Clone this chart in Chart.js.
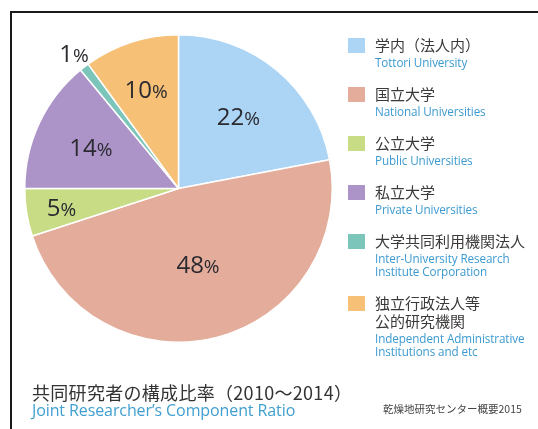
<!DOCTYPE html>
<html>
<head>
<meta charset="utf-8">
<script src="https://cdn.jsdelivr.net/npm/chart.js@4"></script>
<style>
    html, body { margin: 0; padding: 0; background: #fff; }
    body { width: 538px; height: 429px; position: relative; overflow: hidden; font-family: "Open Sans", "Noto Sans CJK JP", sans-serif; }
    .frame { position: absolute; left: 10px; top: 11px; width: 540px; height: 430px; border-top: 2px solid #1a1a1a; border-left: 2px solid #1a1a1a; }
    #pie-wrap { position: absolute; left: 0; top: 0; width: 360px; height: 380px; }
    #legend { position: absolute; left: 348px; top: 38px; width: 190px; }
    .item { position: relative; padding-left: 27px; margin-bottom: 18px; }
    .box { position: absolute; left: 0; top: 0; width: 17px; height: 15px; }
    .ja { font-family: "Noto Sans CJK JP", sans-serif; font-size: 15px; line-height: 14px; color: #3a3a3a; margin-bottom: 4px; }
    .en { font-family: "Open Sans", sans-serif; font-size: 11.7px; line-height: 13px; color: #3c9ad0; letter-spacing: -0.1px; }
    .title-ja { position: absolute; left: 32px; top: 382px; font-family: "Noto Sans CJK JP", sans-serif; font-size: 18px; line-height: 20px; color: #333; letter-spacing: 0.3px; }
    .title-en { position: absolute; left: 32px; top: 401px; font-family: "Open Sans", sans-serif; font-size: 16px; line-height: 18px; color: #3f9fd0; letter-spacing: -0.1px; }
    .source { position: absolute; left: 383px; top: 402px; font-family: "Noto Sans CJK JP", serif; font-size: 10.5px; line-height: 14px; color: #444; }
</style>
</head>
<body>
<div class="frame"></div>
<div id="pie-wrap"><canvas id="pie"></canvas></div>
<div id="legend"></div>
<div class="title-ja">共同研究者の構成比率（2010〜2014）</div>
<div class="title-en">Joint Researcher’s Component Ratio</div>
<div class="source">乾燥地研究センター概要2015</div>

<script>
    "use strict";

    // categories, clockwise from 12 o'clock
    const categoriesJa = ['学内（法人内）', '国立大学', '公立大学', '私立大学', '大学共同利用機関法人', '独立行政法人等\n公的研究機関'];
    const categoriesEn = ['Tottori University', 'National Universities', 'Public Universities', 'Private Universities',
        'Inter-University Research\nInstitute Corporation', 'Independent Administrative\nInstitutions and etc'];
    const shares = [22, 48, 5, 14, 1, 10];

    const sliceColors = ['#acd4f4', '#e4ac9b', '#c8dc86', '#ac94c8', '#7cc5bb', '#f6c177'];
    // distance of each percent label from the centre, as a fraction of the radius
    const labelRadius = [0.61, 0.51, 0.77, 0.63, 1.11, 0.68];

    // legend
    let legend = document.getElementById('legend');
    categoriesJa.forEach(function(ja, i) {
        let item = document.createElement('div');
        item.className = 'item';
        let box = document.createElement('div');
        box.className = 'box';
        box.style.background = sliceColors[i];
        item.appendChild(box);
        ja.split('\n').forEach(function(line) {
            let d = document.createElement('div');
            d.className = 'ja';
            d.textContent = line;
            item.appendChild(d);
        });
        categoriesEn[i].split('\n').forEach(function(line) {
            let d = document.createElement('div');
            d.className = 'en';
            d.textContent = line;
            item.appendChild(d);
        });
        legend.appendChild(item);
    });

    const percentLabels = {
        id: 'percentLabels',
        afterDatasetsDraw(chart) {
            let ctx = chart.ctx;
            let meta = chart.getDatasetMeta(0);
            ctx.save();
            ctx.fillStyle = '#2a2a30';
            ctx.textBaseline = 'alphabetic';
            meta.data.forEach(function(arc, i) {
                let p = arc.getProps(['x', 'y', 'startAngle', 'endAngle', 'outerRadius'], true);
                let mid = (p.startAngle + p.endAngle) / 2;
                let r = p.outerRadius * labelRadius[i];
                let cx = p.x + Math.cos(mid) * r;
                let cy = p.y + Math.sin(mid) * r;
                let num = String(shares[i]);
                ctx.font = '24px "Open Sans"';
                let wNum = ctx.measureText(num).width;
                ctx.font = '19px "Open Sans"';
                let wPct = ctx.measureText('%').width;
                let x0 = cx - (wNum + wPct) / 2;
                let base = cy + 8.5;
                ctx.font = '24px "Open Sans"';
                ctx.fillText(num, x0, base);
                ctx.font = '19px "Open Sans"';
                ctx.fillText('%', x0 + wNum, base);
            });
            ctx.restore();
        }
    };

    new Chart(document.getElementById('pie'), {
        type: 'pie',
        data: {
            labels: categoriesEn,
            datasets: [{
                data: shares,
                backgroundColor: sliceColors,
                borderColor: '#ffffff',
                borderWidth: 1.5
            }]
        },
        options: {
            responsive: true,
            maintainAspectRatio: false,
            animation: false,
            layout: {
                padding: { left: 24, top: 34, right: 27, bottom: 37 }
            },
            plugins: {
                legend: { display: false },
                tooltip: { enabled: false }
            }
        },
        plugins: [percentLabels]
    });
</script>
</body>
</html>
